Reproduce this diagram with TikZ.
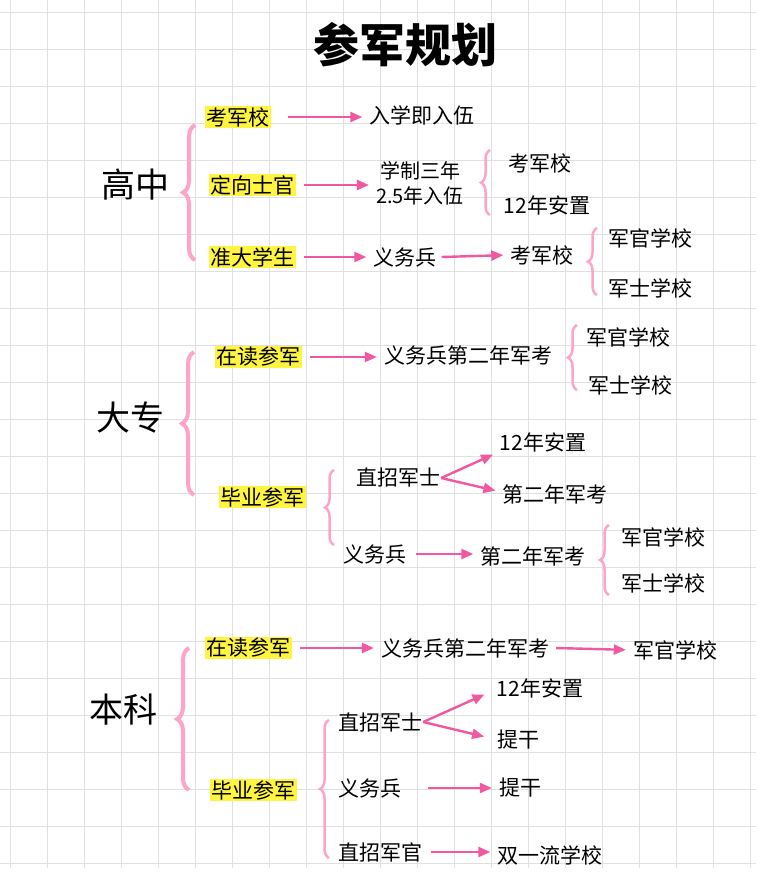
\documentclass[tikz,border=0pt]{standalone}
\usepackage{fontspec}
\setmainfont{Noto Sans CJK SC}
\usetikzlibrary{decorations.pathreplacing,arrows.meta}
\begin{document}
\begin{tikzpicture}[x=1pt,y=-1pt,
  t/.style={font=\fontsize{21}{24}\selectfont,inner sep=1pt,align=center},
  hl/.style={t,fill=yellow!75!white,inner sep=1.5pt},
  big/.style={font=\fontsize{34}{38}\selectfont},
  ar/.style={-{Triangle[length=12pt,width=10pt]},line width=2.4pt,draw=magenta!55!pink,shorten >=6pt},
  br/.style={decorate,decoration={brace,amplitude=12pt,aspect=0.5},line width=4pt,draw=pink!85!magenta},
  br2/.style={decorate,decoration={brace,amplitude=9pt},line width=2.5pt,draw=pink!85!magenta}]
\useasboundingbox (0,0) rectangle (756,895);
\fill[white] (0,0) rectangle (756,895);
\foreach \i in {0,...,20} {\draw[black!12,line width=0.8pt] (\i*37+10,0) -- (\i*37+10,868);}
\foreach \j in {0,...,23} {\draw[black!12,line width=0.8pt] (0,\j*37+12) -- (756,\j*37+12);}
\node[font=\fontsize{46}{50}\selectfont\bfseries] (title) at (405,45) {参军规划};
% 高中
\node[big] (g) at (135,185) {高中};
\node[hl] (g1) at (238,117) {考军校};
\node[hl] (g2) at (252,185) {定向士官};
\node[hl] (g3) at (252,257) {准大学生};
\draw[br] (195,260) -- (195,125);
\node[t] (g1a) at (422,115) {入学即入伍};
\draw[ar] (g1) ++(50,0) coordinate (c1) (c1) -- (g1a.west|-c1);
\node[t,font=\fontsize{20}{25}\selectfont] (g2a) at (420,183) {学制三年\\2.5年入伍};
\draw[ar] (g2.east) ++(8,0) -- (g2a.west|-g2);
\draw[br2] (490,215) -- (490,150);
\node[t] (g2b) at (540,163) {考军校};
\node[t] (g2c) at (547,205) {12年安置};
\node[t] (g3a) at (405,257) {义务兵};
\draw[ar] (g3.east) ++(8,0) -- (g3a.west);
\node[t] (g3b) at (542,255) {考军校};
\draw[ar] (g3a.east) ++(4,0) -- (g3b.west);
\draw[br2] (597,295) -- (597,228);
\node[t] (g3c) at (650,238) {军官学校};
\node[t] (g3d) at (650,288) {军士学校};
% 大专
\node[big] (d) at (130,418) {大专};
\draw[br] (194,495) -- (194,352);
\node[hl] (d1) at (258,357) {在读参军};
\node[t] (d1a) at (468,355) {义务兵第二年军考};
\draw[ar] (d1.east) ++(8,0) -- (d1a.west|-d1);
\draw[br2] (577,390) -- (577,325);
\node[t] (d1b) at (628,337) {军官学校};
\node[t] (d1c) at (630,385) {军士学校};
\node[hl] (d2) at (262,497) {毕业参军};
\draw[br2] (334,545) -- (334,470);
\node[t] (d2a) at (398,478) {直招军士};
\node[t] (d2b) at (543,442) {12年安置};
\node[t] (d2c) at (555,494) {第二年军考};
\draw[ar] (d2a.east) -- (d2b.west|-0,452);
\draw[ar] (d2a.east) -- (d2c.west|-0,492);
\node[t] (d2d) at (375,554) {义务兵};
\node[t] (d2e) at (533,556) {第二年军考};
\draw[ar] (d2d.east) ++(8,0) -- (d2e.west|-d2d);
\draw[br2] (609,595) -- (609,525);
\node[t] (d2f) at (663,537) {军官学校};
\node[t] (d2g) at (663,583) {军士学校};
% 本科
\node[big] (b) at (123,710) {本科};
\draw[br] (189,790) -- (189,648);
\node[hl] (b1) at (248,648) {在读参军};
\node[t] (b1a) at (465,648) {义务兵第二年军考};
\draw[ar] (b1.east) ++(8,0) -- (b1a.west|-b1);
\node[t] (b1b) at (675,650) {军官学校};
\draw[ar] (b1a.east) ++(6,0) -- (b1b.west);
\node[hl] (b2) at (253,790) {毕业参军};
\draw[br2] (329,858) -- (329,720);
\node[t] (b2a) at (380,722) {直招军士};
\node[t] (b2b) at (540,688) {12年安置};
\node[t] (b2c) at (518,740) {提干};
\draw[ar] (b2a.east) -- (490,692);
\draw[ar] (b2a.east) -- (490,738);
\node[t] (b2d) at (370,788) {义务兵};
\node[t] (b2e) at (520,788) {提干};
\draw[ar] (b2d.east) ++(25,0) -- (b2e.west);
\node[t] (b2f) at (380,852) {直招军官};
\node[t] (b2g) at (550,855) {双一流学校};
\draw[ar] (b2f.east) ++(8,0) -- (b2g.west|-b2f);
\end{tikzpicture}
\end{document}
